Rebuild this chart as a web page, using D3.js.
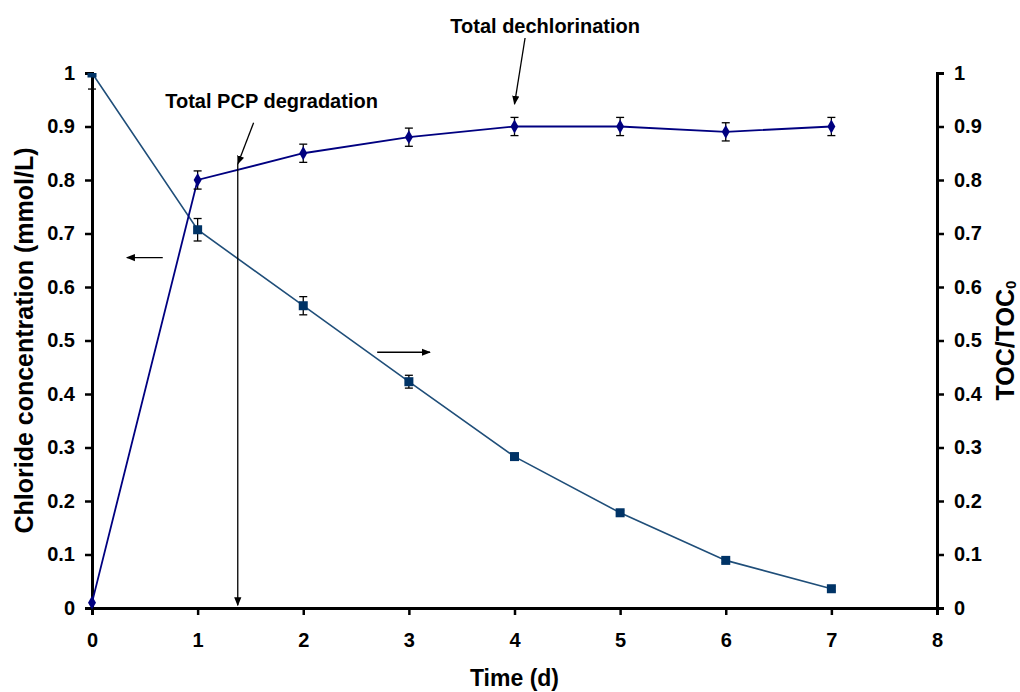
<!DOCTYPE html>
<html>
<head>
<meta charset="utf-8">
<script src="https://cdn.jsdelivr.net/npm/d3@7"></script>
<style>
  body { margin: 0; background: #fff; }
  text { font-family: "Liberation Sans", Arial, sans-serif; font-weight: bold; }
</style>
</head>
<body>
<div id="chart"></div>
<script>
// time in days
var days = [0, 1, 2, 3, 4, 5, 6, 7];
// chloride concentration (mmol/L), left axis
var chloride = [0.01, 0.80, 0.85, 0.88, 0.90, 0.90, 0.89, 0.90];
var chlorideErr = [0.0, 0.017, 0.017, 0.017, 0.017, 0.017, 0.017, 0.017];
// TOC/TOC0, right axis
var toc = [1.0, 0.707, 0.565, 0.423, 0.283, 0.178, 0.089, 0.036];
var tocErr = [0.03, 0.021, 0.017, 0.012, 0.006, 0.004, 0.004, 0.004];
var xTicks = [0, 1, 2, 3, 4, 5, 6, 7, 8];
var yTicks = [0, 0.1, 0.2, 0.3, 0.4, 0.5, 0.6, 0.7, 0.8, 0.9, 1];

var width = 1020, height = 692;
var margin = { top: 73, right: 83, bottom: 84, left: 92 };

var svg = d3.select("#chart").append("svg")
    .attr("width", width)
    .attr("height", height);

var x = d3.scaleLinear().domain([0, 8]).range([margin.left, width - margin.right]);
var yL = d3.scaleLinear().domain([0, 1]).range([height - margin.bottom, margin.top]);
var yR = d3.scaleLinear().domain([0, 1]).range([height - margin.bottom, margin.top]);

var fmt = function (d) { return d === 0 || d === 1 ? d3.format("d")(d) : d3.format(".1f")(d); };

svg.append("defs").append("marker")
    .attr("id", "arrow")
    .attr("viewBox", "0 0 10 10")
    .attr("refX", 9).attr("refY", 5)
    .attr("markerWidth", 9).attr("markerHeight", 9)
    .attr("markerUnits", "userSpaceOnUse")
    .attr("orient", "auto")
    .append("path").attr("d", "M0,1 L10,5 L0,9 Z").attr("fill", "#000");

svg.append("defs").append("clipPath").attr("id", "plotclip")
    .append("rect")
    .attr("x", margin.left - 10).attr("y", margin.top)
    .attr("width", width - margin.left - margin.right + 20)
    .attr("height", height - margin.top - margin.bottom + 10);

// axes
var bottom = svg.append("g")
    .attr("transform", "translate(0," + (height - margin.bottom) + ")")
    .call(d3.axisBottom(x).tickValues(xTicks).tickSize(7).tickFormat(d3.format("d")));
var left = svg.append("g")
    .attr("transform", "translate(" + margin.left + ",0)")
    .call(d3.axisLeft(yL).tickValues(yTicks).tickSize(7).tickFormat(fmt));
var right = svg.append("g")
    .attr("transform", "translate(" + (width - margin.right) + ",0)")
    .call(d3.axisRight(yR).tickValues(yTicks).tickSize(7).tickFormat(fmt));

[bottom, left, right].forEach(function (g) {
    g.select(".domain").attr("stroke", "#000").attr("stroke-width", 3);
    g.selectAll(".tick line").attr("stroke", "#000").attr("stroke-width", 2.5);
    g.selectAll(".tick text").attr("fill", "#000").style("font-size", "20px").style("font-weight", "bold");
});
bottom.selectAll(".tick text").attr("y", 25).attr("dy", "0.71em");
left.selectAll(".tick text").attr("x", -17);
right.selectAll(".tick text").attr("x", 17);

// series lines
var plot = svg.append("g").attr("clip-path", "url(#plotclip)");

var lineL = d3.line().x(function (d, i) { return x(days[i]); }).y(function (d) { return yL(d); });
var lineR = d3.line().x(function (d, i) { return x(days[i]); }).y(function (d) { return yR(d); });

plot.append("path").datum(toc).attr("d", lineR)
    .attr("fill", "none").attr("stroke", "#1f4e79").attr("stroke-width", 1.6);
plot.append("path").datum(chloride).attr("d", lineL)
    .attr("fill", "none").attr("stroke", "#000080").attr("stroke-width", 1.8);

// error bars
function errBars(vals, errs, y) {
    vals.forEach(function (v, i) {
        if (!errs[i]) return;
        var cx = x(days[i]);
        var g = plot.append("g").attr("stroke", "#000").attr("stroke-width", 1.3);
        g.append("line").attr("x1", cx).attr("x2", cx).attr("y1", y(v - errs[i])).attr("y2", y(v + errs[i]));
        g.append("line").attr("x1", cx - 4).attr("x2", cx + 4).attr("y1", y(v - errs[i])).attr("y2", y(v - errs[i]));
        g.append("line").attr("x1", cx - 4).attr("x2", cx + 4).attr("y1", y(v + errs[i])).attr("y2", y(v + errs[i]));
    });
}
errBars(toc, tocErr, yR);
errBars(chloride, chlorideErr, yL);

// markers
plot.selectAll(".sq").data(toc).enter().append("rect")
    .attr("x", function (d, i) { return x(days[i]) - 4.5; })
    .attr("y", function (d) { return yR(d) - 4.5; })
    .attr("width", 9).attr("height", 9)
    .attr("fill", "#003366");
svg.selectAll(".dm").data(chloride).enter().append("path")
    .attr("d", d3.symbol().type(d3.symbolDiamond).size(55))
    .attr("transform", function (d, i) { return "translate(" + x(days[i]) + "," + yL(d) + ")"; })
    .attr("fill", "#000080");

// annotations
var pcpX = 1.38;
svg.append("line")
    .attr("x1", x(pcpX)).attr("x2", x(pcpX))
    .attr("y1", yL(0.83)).attr("y2", yL(0.005))
    .attr("stroke", "#000").attr("stroke-width", 1.3)
    .attr("marker-end", "url(#arrow)");
svg.append("line")
    .attr("x1", x(1.53)).attr("x2", x(pcpX))
    .attr("y1", yL(0.907)).attr("y2", yL(0.83))
    .attr("stroke", "#000").attr("stroke-width", 1.3)
    .attr("marker-end", "url(#arrow)");
svg.append("text")
    .attr("x", x(1.7)).attr("y", 108)
    .attr("text-anchor", "middle")
    .style("font-size", "20px")
    .text("Total PCP degradation");

svg.append("line")
    .attr("x1", x(4.1)).attr("x2", x(4.0))
    .attr("y1", 38).attr("y2", yL(0.942))
    .attr("stroke", "#000").attr("stroke-width", 1.3)
    .attr("marker-end", "url(#arrow)");
svg.append("text")
    .attr("x", x(4.29)).attr("y", 33)
    .attr("text-anchor", "middle")
    .style("font-size", "20px")
    .text("Total dechlorination");

// axis pointers
svg.append("line")
    .attr("x1", x(0.67)).attr("x2", x(0.33))
    .attr("y1", yL(0.655)).attr("y2", yL(0.655))
    .attr("stroke", "#000").attr("stroke-width", 1.3)
    .attr("marker-end", "url(#arrow)");
svg.append("line")
    .attr("x1", x(2.7)).attr("x2", x(3.2))
    .attr("y1", yL(0.478)).attr("y2", yL(0.478))
    .attr("stroke", "#000").attr("stroke-width", 1.3)
    .attr("marker-end", "url(#arrow)");

// axis titles
svg.append("text")
    .attr("x", (margin.left + width - margin.right) / 2).attr("y", 686)
    .attr("text-anchor", "middle")
    .style("font-size", "23px")
    .text("Time (d)");
svg.append("text")
    .attr("transform", "translate(33," + ((margin.top + height - margin.bottom) / 2) + ") rotate(-90)")
    .attr("text-anchor", "middle")
    .style("font-size", "25px")
    .text("Chloride concentration (mmol/L)");
var rt = svg.append("text")
    .attr("transform", "translate(1014," + ((margin.top + height - margin.bottom) / 2) + ") rotate(-90)")
    .attr("text-anchor", "middle")
    .style("font-size", "25px");
rt.append("tspan").text("TOC/TOC");
rt.append("tspan").attr("dy", 2).style("font-size", "15px").text("0");
</script>
</body>
</html>
